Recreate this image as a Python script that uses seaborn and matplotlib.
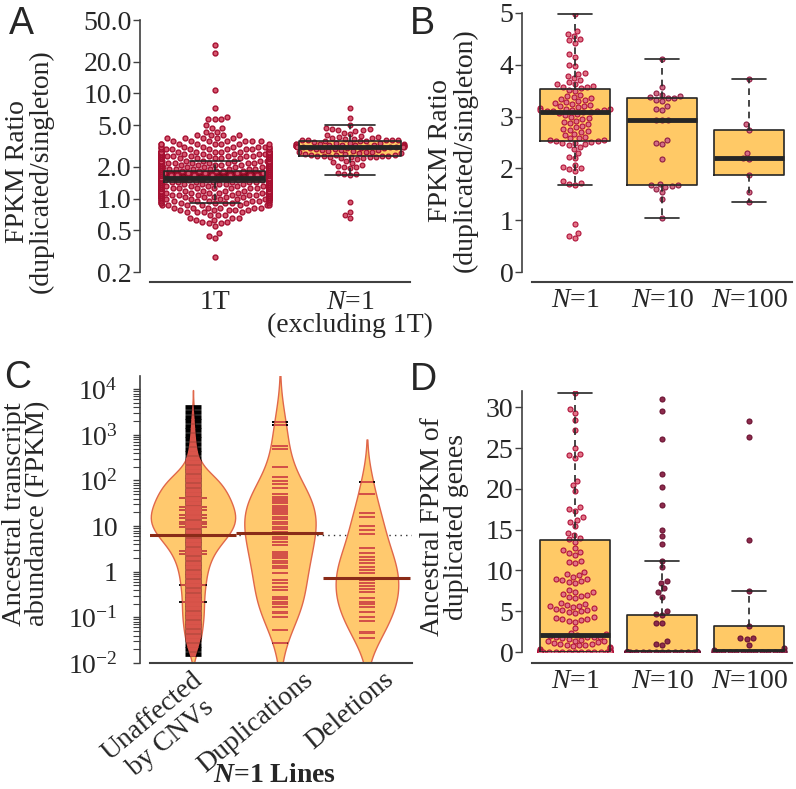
import warnings
import numpy as np
import pandas as pd
import seaborn as sns
import matplotlib.pyplot as plt
from matplotlib import ticker
from matplotlib.collections import LineCollection
from matplotlib.transforms import ScaledTranslation

warnings.filterwarnings("ignore")

# ---------------- data ----------------
# A / B : FPKM ratio (duplicated / singleton)
ratio_1t_levels = [0.28, 0.42, 0.44, 0.47, 0.55, 0.58, 0.60, 0.63, 0.66, 0.70, 0.74, 0.78,
                   0.82, 0.86, 0.90, 0.94, 0.98, 1.03, 1.08, 1.13, 1.19, 1.25, 1.31, 1.37,
                   1.44, 1.51, 1.58, 1.66, 1.74, 1.82, 1.91, 2.00, 2.10, 2.20, 2.30, 2.41,
                   2.53, 2.65, 2.78, 2.95, 3.10, 3.30, 3.50, 3.75, 4.00, 4.30, 4.70, 5.00,
                   5.70, 6.00, 7.30, 10.8, 24.0, 29.0]
ratio_1t_counts = [1, 1, 1, 1, 1, 2, 2, 2, 3, 3, 4, 5,
                   6, 7, 8, 9, 11, 22, 22, 22, 22, 22, 22, 22,
                   85, 95, 100, 92, 92, 18, 18, 18, 18, 18, 18, 18,
                   18, 18, 25, 10, 9, 8, 7, 5, 4, 2, 2, 1,
                   3, 1, 1, 1, 1, 1]
ratio_n1 = [7.2, 5.9, 4.98, 4.65, 4.6, 4.55, 4.5, 4.47, 4.42, 4.2, 4.15, 4.0, 3.98,
            3.85, 3.82, 3.78, 3.74, 3.7, 3.66, 3.63, 3.6, 3.58, 3.56, 3.62, 3.57,
            3.52, 3.5, 3.42, 3.4, 3.38, 3.36, 3.34, 3.32, 3.3, 3.28, 3.26, 3.25, 3.23,
            3.21, 3.2, 3.18, 3.16, 3.15, 3.14, 3.13, 3.12, 3.12, 3.11, 3.1, 3.1, 3.09,
            3.08, 3.06, 3.05, 3.03, 3.0, 2.98, 2.95, 2.92, 2.9, 2.87, 2.85, 2.82, 2.8,
            2.77, 2.75, 2.72, 2.7, 2.67, 2.64, 2.61, 2.59, 2.58,
            2.55, 2.54, 2.53, 2.52, 2.51, 2.5, 2.49, 2.48, 2.45, 2.42, 2.38, 2.3, 2.22,
            2.2, 2.07, 2.03, 2.0, 1.98, 1.95, 1.75, 1.72, 1.7, 1.68, 0.92, 0.75, 0.7, 0.65]
ratio_n10 = [4.12, 3.58, 3.45, 3.42, 3.4, 3.38, 3.36, 3.35, 3.33, 3.3, 3.2, 3.15, 3.13,
             2.93, 2.93, 2.93, 2.55, 2.5, 2.48, 2.18, 1.7, 1.68, 1.67, 1.66, 1.65, 1.6,
             1.55, 1.4, 1.04]
ratio_n100 = [3.73, 2.85, 2.75, 2.3, 2.2, 2.19, 1.88, 1.55, 1.35]

# C : ancestral transcript abundance, log10(FPKM), N=1 lines
unaff_log10 = [-1.8, -1.7, -1.6, -1.5, -1.4, -1.3, -1.2, -1.1, -1.0, -0.9, -0.8, -0.7,
               -0.6, -0.5, -0.4, -0.3, -0.2, -0.1, 0.0, 0.1, 0.2, 0.3, 0.4, 0.5, 0.6,
               0.7, 0.8, 0.9, 1.0, 1.1, 1.2, 1.3, 1.4, 1.5, 1.6, 1.7, 1.8, 1.9, 2.0,
               2.1, 2.2, 2.3, 2.4, 2.5, 2.6, 2.7, 2.8, 2.9, 3.0, 3.1, 3.2, 3.3, 3.4,
               3.5, 3.6]
unaff_counts = [4, 5, 6, 7, 8, 8, 9, 9, 10, 10, 10, 10,
                10, 10, 11, 11, 12, 12, 13, 14, 15, 17, 19, 21, 25,
                29, 33, 36, 38, 40, 40, 39, 37, 36, 34, 32, 30, 27, 25,
                20, 13, 8, 6, 5, 4, 4, 3, 3, 2, 2, 2, 2, 1,
                1, 1]
unaff_repeat_log10 = [1.612, 1.414, 1.356, 1.246, 1.173, 1.100, 1.041, 0.990,
                      0.464, 0.391, -0.289, -0.669]
dup_log10 = [3.271, 3.220, 2.745, 2.693, 2.306, 2.072, 1.992, 1.919, 1.831, 1.699,
             1.648, 1.597, 1.553, 1.502, 1.451, 1.407, 1.356, 1.305, 1.261, 1.210,
             1.158, 1.100, 1.049, 0.990, 0.932, 0.881, 0.822, 0.771, 0.712, 0.661,
             0.588, 0.442, 0.391, 0.347, 0.296, 0.245, 0.186, 0.135, 0.076, -0.033,
             -0.179, -0.252, -0.340, -0.399, -0.545, -0.603, -0.654, -0.713, -0.779,
             -0.874, -0.910, -0.998, -1.276, -1.568]
del_log10 = [1.977, 1.699, 1.283, 1.210, 1.005, 0.917, 0.829, 0.530, 0.420, 0.332,
             0.259, 0.186, 0.113, 0.040, -0.033, -0.179, -0.252, -0.311, -0.384,
             -0.435, -0.581, -0.654, -0.706, -0.764, -0.874, -0.984, -1.071, -1.312,
             -1.349, -1.459]
bean_means = [6.4, 6.9, 0.74]
overall_mean = 6.4

# D : ancestral FPKM of duplicated genes (zeros listed as counts)
fpkm_n1 = [31.7, 29.8, 29.3, 28.5, 27.2, 25.0, 24.3, 24.1, 23.8, 21.0, 20.5, 19.8,
           17.8, 17.5, 17.3, 16.5, 16.2, 16.0, 15.5, 14.6, 14.3, 14.0, 13.8,
           13.5, 12.7, 12.5, 12.3, 12.1, 11.9, 11.1, 11.0, 10.9, 9.8, 9.6, 9.4, 9.2,
           9.0, 8.9, 8.8, 8.7, 8.6, 8.5, 7.6, 7.4, 7.3, 7.1, 7.0, 6.9, 6.8, 6.6, 6.0,
           5.9, 5.8, 5.7, 5.6, 5.5, 5.4, 5.3, 5.2, 5.1, 5.0, 4.9, 4.8, 4.3, 4.2, 4.1,
           4.0, 3.9, 3.8, 3.7, 2.9, 2.3, 2.2, 2.1, 2.0, 1.9, 1.9, 1.8, 1.8, 1.7,
           1.6, 1.5, 1.4, 1.3, 1.3, 1.2, 1.1, 1.0, 1.0, 0.9, 0.9, 0.8, 0.7, 0.6, 0.5,
           0.4, 0.3, 0.2,
           35, 38, 41, 45, 49, 52, 57, 60, 66, 70, 78, 85, 95, 110, 120, 140, 160,
           190, 210, 250, 300, 380, 450, 520, 700, 900, 1300, 1700, 1900]
fpkm_n10 = [31.0, 29.5, 26.1, 21.8, 20.2, 18.0, 15.0, 14.2, 13.3, 11.2, 10.4, 8.7, 8.5,
            7.8, 7.4, 6.8, 5.0, 4.6, 4.5, 3.6, 3.5, 1.3, 1.0, 0.8, 40, 75]
fpkm_n100 = [28.3, 26.3, 13.7, 7.5, 3.2, 1.7, 1.7, 1.6, 0.9, 0.5, 0.2, 0.1, 45, 90, 300]
zero_counts = [79, 55, 14]

groups_a = ["1T", "$N$=1\n(excluding 1T)"]
groups_b = ["$N$=1", "$N$=10", "$N$=100"]
groups_c = ["Unaffected\nby CNVs", "Duplications", "Deletions"]

# ---------------- style ----------------
ORANGE = "#FFC966"
DARK_BOX = "#7A0A1E"
BOX_LINE = "#262626"
AXIS = "#404040"
PT_DENSE = ("#D65870", "#A50F30")
PT_RED = ("#E27487", "#B0123A")
PT_ROSE = ("#D36C86", "#8E1B42")
PT_MAROON = ("#8D2B4C", "#6A1232")
BEAN_FILL = "#FFC96E"
BEAN_EDGE = "#E0674A"
BEAN_LINE = "#D9544A"
BEAN_AVG = "#8A2B18"

sns.set_style("ticks")
plt.rcParams["font.family"] = ["Liberation Serif", "DejaVu Serif"]
plt.rcParams["mathtext.fontset"] = "custom"
plt.rcParams["mathtext.rm"] = "Liberation Serif"
plt.rcParams["mathtext.it"] = "Liberation Serif:italic"
plt.rcParams["mathtext.bf"] = "Liberation Serif:bold"
plt.rcParams["mathtext.bfit"] = "Liberation Serif:bold:italic"
plt.rcParams["font.size"] = 20
plt.rcParams["axes.labelsize"] = 20
plt.rcParams["xtick.labelsize"] = 20
plt.rcParams["ytick.labelsize"] = 20

W, H = 796, 789
fig = plt.figure(figsize=(W / 100, H / 100), dpi=100)
fig.patch.set_facecolor("white")


def axes_px(x0, y0, x1, y1):
    return fig.add_axes([x0 / W, 1 - y1 / H, (x1 - x0) / W, (y1 - y0) / H])


def style_axes(ax, bottom_off=7.2, xpad=5):
    for s in ["top", "right"]:
        ax.spines[s].set_visible(False)
    ax.spines["left"].set_position(("outward", 7.2))
    ax.spines["bottom"].set_position(("outward", bottom_off))
    for s in ["left", "bottom"]:
        ax.spines[s].set_color(AXIS)
    ax.spines["left"].set_linewidth(1.2)
    ax.spines["bottom"].set_linewidth(1.5)
    ax.tick_params(axis="x", length=0, pad=xpad)
    ax.tick_params(axis="y", length=5, width=1, color=AXIS, pad=1)
    ax.set_xlabel("")
    ax.grid(False)


def set_ylabel(ax, text, xpos, ypos, size=20):
    ax.set_ylabel(text, linespacing=0.95, fontsize=size)
    ax.yaxis.label.set_va("center")
    ax.yaxis.set_label_coords(xpos, ypos)


def long_df(groups, arrays):
    return pd.DataFrame({"g": np.concatenate([[g] * len(a) for g, a in zip(groups, arrays)]),
                         "v": np.concatenate([np.asarray(a, float) for a in arrays])})


def draw_boxes(ax, df, order, width, palette):
    common = dict(data=df, x="g", y="v", order=order, ax=ax, width=width,
                  whis=1.5, showfliers=False)
    sns.boxplot(**common, hue="g", hue_order=order, palette=palette, saturation=1,
                linewidth=0, legend=False, zorder=1)
    sns.boxplot(**common, fill=False, color=BOX_LINE, linewidth=1.2,
                medianprops=dict(linewidth=3.5),
                whiskerprops=dict(linestyle=(0, (4, 3))), zorder=4)


def draw_swarm(ax, values, group, order, size, colors, lw=0.8):
    d = pd.DataFrame({"g": group, "v": np.asarray(values, float)})
    sns.swarmplot(data=d, x="g", y="v", order=order, ax=ax, size=size,
                  color=colors[0], edgecolor=colors[1], linewidth=lw, zorder=3)


# ---------------- A ----------------
axA = axes_px(150, 20, 410, 272)
ratio_1t = np.repeat(ratio_1t_levels, ratio_1t_counts)
dfA = long_df(groups_a, [ratio_1t, ratio_n1])
draw_boxes(axA, dfA, groups_a, 0.75, {groups_a[0]: DARK_BOX, groups_a[1]: ORANGE})
axA.set_yscale("log")
draw_swarm(axA, ratio_1t, groups_a[0], groups_a, 3.5, PT_DENSE, lw=1.0)
draw_swarm(axA, ratio_n1, groups_a[1], groups_a, 3.4, PT_DENSE, lw=0.9)
axA.set_ylim(0.2, 50)
axA.set_xlim(-0.48, 1.445)
a_ticks = [0.2, 0.5, 1, 2, 5, 10, 20, 50]
axA.yaxis.set_major_locator(ticker.FixedLocator(a_ticks))
axA.yaxis.set_minor_locator(ticker.NullLocator())
axA.set_yticklabels([f"{t:.1f}" for t in a_ticks])
style_axes(axA, xpad=5.5)
axA.spines["left"].set_bounds(0.2, 50)
for t in axA.get_xticklabels():
    t.set_linespacing(0.9)
set_ylabel(axA, "FPKM Ratio\n(duplicated/singleton)", -0.465, 0.40)

# ---------------- B ----------------
axB = axes_px(532, 13, 792, 272)
dfB = long_df(groups_b, [ratio_n1, ratio_n10, ratio_n100])
draw_boxes(axB, dfB, groups_b, 0.8, {g: ORANGE for g in groups_b})
draw_swarm(axB, ratio_n1, groups_b[0], groups_b, 3.6, PT_RED)
draw_swarm(axB, ratio_n10, groups_b[1], groups_b, 3.6, PT_ROSE)
draw_swarm(axB, ratio_n100, groups_b[2], groups_b, 3.6, PT_ROSE)
axB.set_ylim(0, 5)
axB.set_xlim(-0.494, 2.494)
axB.set_yticks(range(6))
style_axes(axB, xpad=4)
axB.spines["left"].set_bounds(0, 5)
set_ylabel(axB, "FPKM Ratio\n(duplicated/singleton)", -0.305, 0.47)

# ---------------- C ----------------
axC = axes_px(150, 376, 412, 663)
axC.set_yscale("log")
c_values = [10 ** np.repeat(unaff_log10, unaff_counts),
            10 ** np.asarray(dup_log10), 10 ** np.asarray(del_log10)]
c_lines = [10 ** np.asarray(unaff_log10), 10 ** np.asarray(dup_log10),
           10 ** np.asarray(del_log10)]
line_w = [3.4, 1.4, 1.4]
bean_width = [0.97, 0.82, 0.72]
bean_bw = [0.7, 1.0, 1.0]
axC.axhline(overall_mean, ls=(0, (1, 3)), color="#333333", lw=1, zorder=0.5)


def bean_lines(ax, pos, vals, half, lw, poly):
    segs = [[(pos - half, v), (pos + half, v)] for v in vals]
    black = LineCollection(segs, colors="black", linewidths=lw, zorder=3)
    red = LineCollection(segs, colors=BEAN_LINE, linewidths=lw, zorder=4)
    red.set_clip_path(poly.get_paths()[0], poly.get_transform())
    ax.add_collection(black, autolim=False)
    ax.add_collection(red, autolim=False)


for i, cat in enumerate(groups_c):
    d = pd.DataFrame({"g": cat, "v": c_values[i]})
    sns.violinplot(data=d, x="g", y="v", order=groups_c, ax=axC, width=bean_width[i],
                   bw_adjust=bean_bw[i], inner=None, density_norm="width", cut=2,
                   color=BEAN_FILL, linecolor=BEAN_EDGE, linewidth=1, saturation=1,
                   log_scale=True)
    poly = axC.collections[-1]
    bean_lines(axC, i, c_lines[i], 0.092, line_w[i], poly)
    if i == 0:
        bean_lines(axC, i, 10 ** np.asarray(unaff_repeat_log10), 0.16, 1.3, poly)
    axC.hlines(bean_means[i], i - 0.5, i + 0.5, color=BEAN_AVG, lw=2.2, zorder=5)

axC.set_ylim(1e-2, 10 ** 4.29)
axC.set_xlim(-0.494, 2.518)
c_ticks = [1e-2, 1e-1, 1, 10, 1e2, 1e3, 1e4]
axC.yaxis.set_major_locator(ticker.FixedLocator(c_ticks))
axC.set_yticklabels(["$10^{-2}$", "$10^{-1}$", "1", "10", "$10^{2}$", "$10^{3}$", "$10^{4}$"])
axC.yaxis.set_minor_locator(ticker.LogLocator(base=10, subs=np.arange(2, 10), numticks=30))
axC.yaxis.set_minor_formatter(ticker.NullFormatter())
style_axes(axC, bottom_off=0, xpad=3)
axC.tick_params(axis="y", which="major", length=5, pad=11)
axC.tick_params(axis="y", which="minor", length=5, width=0.8, color=AXIS)
label_shift_px = [-2, 22, 16]
for t, dx in zip(axC.get_xticklabels(), label_shift_px):
    t.set_rotation(40)
    t.set_ha("right")
    t.set_va("top")
    t.set_rotation_mode("anchor")
    t.set_multialignment("center")
    t.set_transform(t.get_transform() + ScaledTranslation(dx / 100, 0, fig.dpi_scale_trans))
set_ylabel(axC, "Ancestral transcript\nabundance (FPKM)", -0.473, 0.52, size=20.5)
fig.text(275 / W, 1 - 776 / H, r"$\mathbfit{N}$=1 Lines", weight="bold",
         ha="center", va="center", fontsize=20)

# ---------------- D ----------------
axD = axes_px(532, 391, 792, 652)
d_arrays = [np.concatenate([a, np.zeros(z)]) for a, z in
            zip([fpkm_n1, fpkm_n10, fpkm_n100], zero_counts)]
dfD = long_df(groups_b, d_arrays)
draw_boxes(axD, dfD, groups_b, 0.8, {g: ORANGE for g in groups_b})
draw_swarm(axD, d_arrays[0], groups_b[0], groups_b, 3.6, PT_RED)
draw_swarm(axD, d_arrays[1], groups_b[1], groups_b, 3.6, PT_MAROON)
draw_swarm(axD, d_arrays[2], groups_b[2], groups_b, 3.6, PT_MAROON)
axD.set_ylim(0, 32)
axD.set_xlim(-0.494, 2.494)
axD.set_yticks(range(0, 31, 5))
style_axes(axD, bottom_off=8, xpad=4)
set_ylabel(axD, "Ancestral FPKM of\nduplicated genes", -0.338, 0.48)

# ---------------- panel letters ----------------
for letter, x, y in [("A", 9, 6), ("B", 410, 6), ("C", 4, 360), ("D", 410, 362)]:
    fig.text(x / W, 1 - y / H, letter, family="Liberation Sans", fontsize=27,
             ha="left", va="top")

fig.savefig("out.png", dpi=100)
